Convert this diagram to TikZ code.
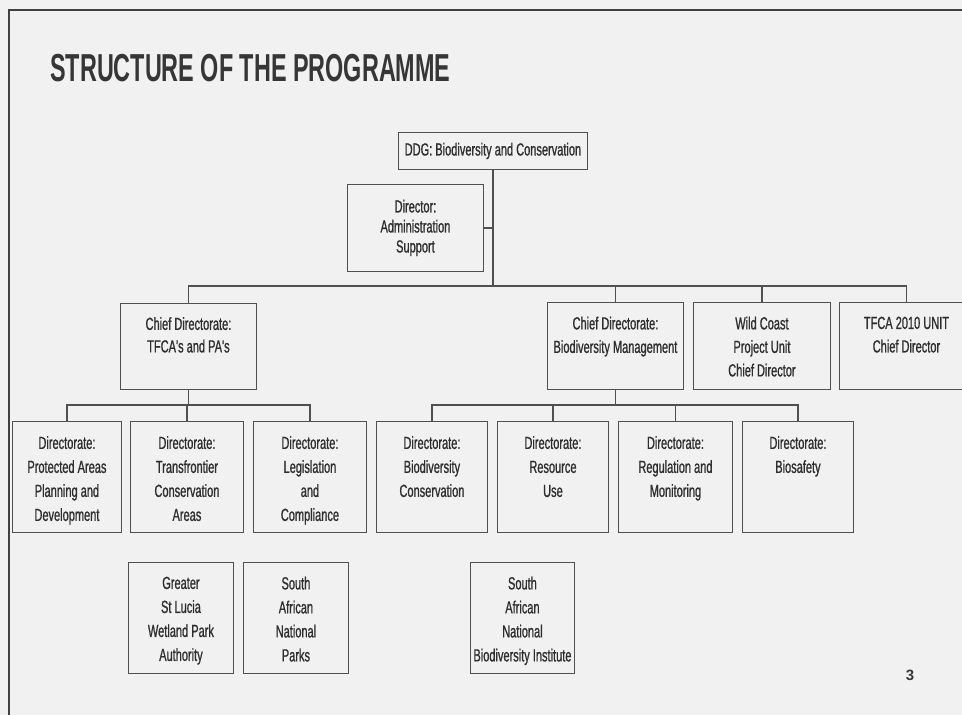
\documentclass[tikz,border=0pt]{standalone}
\usepackage{fontspec}
\setmainfont{Liberation Sans}
\newfontfamily\narrowfont[FakeStretch=0.63,FakeBold=0.9]{Liberation Sans}
\newfontfamily\titlefont[FakeStretch=0.6]{Liberation Sans}
\definecolor{bgc}{HTML}{F1F1F1}
\definecolor{linec}{HTML}{505050}
\definecolor{txtc}{HTML}{2E2E2E}
\definecolor{titlec}{HTML}{363636}
\tikzset{
  box/.style={draw=linec, line width=0.9pt, inner sep=0pt, anchor=north west, align=center,
    text=txtc, font=\narrowfont\fontsize{17.5}{20}\selectfont},
  lbl/.style={inner sep=0pt, anchor=north, align=center, text=txtc,
    font=\narrowfont\fontsize{17.5}{23.5}\selectfont},
  lblf/.style={lbl, font=\narrowfont\fontsize{17.5}{24}\selectfont},
  conn/.style={draw=linec, line width=1.1pt},
  frame/.style={draw=black!75, line width=1.8pt}
}
\begin{document}
\begin{tikzpicture}[x=1pt,y=-1pt]
\useasboundingbox (0,0) rectangle (962,715);
\fill[bgc] (0,0) rectangle (962,715);
\clip (0,0) rectangle (962,715);
% frame
\coordinate (fa) at (9,715);
\coordinate (fb) at (9,10);
\coordinate (fc) at (962,10);
\draw[frame] (fa) -- (fb) -- (fc);
% title
\node[anchor=base west, inner sep=0pt, text=titlec, font=\titlefont\bfseries\fontsize{39}{39}\selectfont] (title) at (50,81) {STRUCTURE OF THE PROGRAMME};
% top
\node[box, minimum width=189pt, minimum height=37pt] (ddg) at (398,132) {DDG: Biodiversity and Conservation};
\node[box, minimum width=136pt, minimum height=87pt] (adm) at (347,184) {Director:\\Administration\\Support};
% chief level
\node[box, minimum width=136pt, minimum height=86pt] (cdt) at (120,303) {};
\node[box, minimum width=136pt, minimum height=87pt] (cbm) at (547,302) {};
\node[box, minimum width=137pt, minimum height=87pt] (wc) at (693,302) {};
\node[box, minimum width=134pt, minimum height=87pt] (tfu) at (839,302) {};
\node[lbl, font=\narrowfont\fontsize{17.5}{22.5}\selectfont] (cdt-t) at ([yshift=-14pt]cdt.north) {Chief Directorate:\\TFCA's and PA's};
\node[lbl] (cbm-t) at ([yshift=-14.5pt]cbm.north) {Chief Directorate:\\Biodiversity Management};
\node[lbl] (wc-t) at ([yshift=-14.5pt]wc.north) {Wild Coast\\Project Unit\\Chief Director};
\node[lbl] (tfu-t) at ([yshift=-14.5pt]tfu.north) {TFCA 2010 UNIT\\Chief Director};
% directorates
\node[box, minimum width=109pt, minimum height=111pt] (pa) at (12,421) {};
\node[box, minimum width=113pt, minimum height=111pt] (tf) at (130,421) {};
\node[box, minimum width=113pt, minimum height=111pt] (lc) at (253,421) {};
\node[box, minimum width=111pt, minimum height=111pt] (bc) at (376,421) {};
\node[box, minimum width=111pt, minimum height=111pt] (ru) at (497,421) {};
\node[box, minimum width=114pt, minimum height=111pt] (rm) at (618,421) {};
\node[box, minimum width=111pt, minimum height=111pt] (bs) at (742,421) {};
\node[lblf] (pa-t) at ([yshift=-15pt]pa.north) {Directorate:\\Protected Areas\\Planning and\\Development};
\node[lblf] (tf-t) at ([yshift=-15pt]tf.north) {Directorate:\\Transfrontier\\Conservation\\Areas};
\node[lblf] (lc-t) at ([yshift=-15pt]lc.north) {Directorate:\\Legislation\\and\\Compliance};
\node[lblf] (bc-t) at ([yshift=-15pt]bc.north) {Directorate:\\Biodiversity\\Conservation};
\node[lblf] (ru-t) at ([yshift=-15pt]ru.north) {Directorate:\\Resource\\Use};
\node[lblf] (rm-t) at ([yshift=-15pt]rm.north) {Directorate:\\Regulation and\\Monitoring};
\node[lblf] (bs-t) at ([yshift=-15pt]bs.north) {Directorate:\\Biosafety};
% bottom row
\node[box, minimum width=105pt, minimum height=111pt] (gsl) at (128,562) {};
\node[box, minimum width=105pt, minimum height=111pt] (san) at (243,562) {};
\node[box, minimum width=104pt, minimum height=111pt] (sanbi) at (470,562) {};
\node[lblf] (gsl-t) at ([yshift=-14.5pt]gsl.north) {Greater\\St Lucia\\Wetland Park\\Authority};
\node[lblf] (san-t) at ([yshift=-14.5pt]san.north) {South\\African\\National\\Parks};
\node[lblf] (sanbi-t) at ([yshift=-14.5pt]sanbi.north) {South\\African\\National\\Biodiversity Institute};
% page number
\node[inner sep=0pt, text=titlec, font=\bfseries\fontsize{15}{15}\selectfont] (pg) at (910,675) {3};
% connectors
\coordinate (bus) at (ddg.south |- 0,286);
\draw[conn] (ddg.south) -- (bus);
\draw[conn] (adm.east) -- (adm.east -| bus);
\draw[conn] (cdt.north) |- (bus) -| (tfu.north);
\draw[conn] (cbm.north) -- (cbm.north |- bus);
\draw[conn] (wc.north) -- (wc.north |- bus);
\coordinate (j1) at (cdt.south |- 0,405);
\draw[conn] (cdt.south) -- (j1);
\draw[conn] (pa.north) |- (j1) -| (lc.north);
\draw[conn] (tf.north) -- (tf.north |- j1);
\coordinate (j2) at (cbm.south |- 0,405);
\draw[conn] (cbm.south) -- (j2);
\draw[conn] (bc.north) |- (j2) -| (bs.north);
\draw[conn] (ru.north) -- (ru.north |- j2);
\draw[conn] (rm.north) -- (rm.north |- j2);
\end{tikzpicture}
\end{document}
